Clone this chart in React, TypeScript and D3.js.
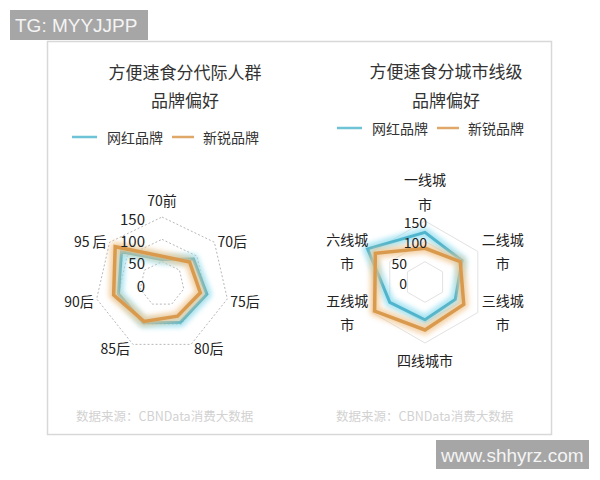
import React from "react";
import * as d3 from "d3";

// ---------- data ----------
const seriesNames = ["网红品牌", "新锐品牌"];

const genCategories = [["70前"], ["70后"], ["75后"], ["80后"], ["85后"], ["90后"], ["95 后"]];
const genWanghong = [55, 90, 103, 95, 96, 100, 116];
const genXinrui = [62, 79, 88, 80, 93, 111, 134];

const cityCategories = [["一线城", "市"], ["二线城", "市"], ["三线城", "市"], ["四线城市"], ["五线城", "市"], ["六线城", "市"]];
const cityWanghong = [122, 105, 86, 93, 100, 163];
const cityXinrui = [83, 100, 110, 118, 143, 141];

const radialTicks = [0, 50, 100, 150];
const titleLeft = ["方便速食分代际人群", "品牌偏好"];
const titleRight = ["方便速食分城市线级", "品牌偏好"];
const sourceText = "数据来源：CBNData消费大数据";

// ---------- styles ----------
const CJK = "'Noto Sans CJK SC', 'Noto Sans', sans-serif";
const BLUE = "#4fb4cc";
const BLUE_GLOW = "#8fdcef";
const ORANGE = "#d99a4e";
const ORANGE_GLOW = "#f2c58f";

type RadarProps = {
  cx: number;
  cy: number;
  R: number;
  categories: string[][];
  blue: number[];
  orange: number[];
  dashed: boolean;
  tickRight: (v: number) => number;
  tickSize: number;
};

function Radar({ cx, cy, R, categories, blue, orange, dashed, tickRight, tickSize }: RadarProps) {
  const n = categories.length;
  const r = d3.scaleLinear().domain([0, 150]).range([0, R]);
  const ang = (i: number) => (i * 2 * Math.PI) / n;
  const line = d3
    .lineRadial<number>()
    .angle((_, i) => ang(i))
    .radius((d) => r(d))
    .curve(d3.curveLinearClosed);
  const ring = (v: number) => line(d3.range(n).map(() => v)) as string;

  const labelEls: React.ReactNode[] = [];
  categories.forEach((lines, i) => {
    const a = ang(i) - Math.PI / 2;
    const c = Math.cos(a);
    const s = Math.sin(a);
    const vx = cx + R * c;
    const vy = cy + R * s;
    const fs = 14;
    if (Math.abs(c) < 0.1) {
      lines.forEach((t, k) => {
        const y = s < 0 ? vy - 17 - (lines.length - 1 - k) * 25 : vy + 17 + k * 25;
        labelEls.push(
          <text key={`l${i}-${k}`} x={vx} y={y} textAnchor="middle" dominantBaseline="central" fontSize={fs} fill="#222" fontFamily={CJK}>
            {t}
          </text>
        );
      });
    } else if (lines.length === 1) {
      labelEls.push(
        <text key={`l${i}`} x={vx + (c > 0 ? 3 : -3)} y={vy + 1 + 3 * s} textAnchor={c > 0 ? "start" : "end"} dominantBaseline="central" fontSize={fs} fill="#222" fontFamily={CJK}>
          {lines[0]}
        </text>
      );
    } else {
      const w = d3.max(lines, (t) => t.length * fs) as number;
      const bx = c > 0 ? vx + 4 + w / 2 : vx - 4 - w / 2;
      lines.forEach((t, k) => {
        const y = vy - 1 + (k - (lines.length - 1) / 2) * 24;
        labelEls.push(
          <text key={`l${i}-${k}`} x={bx} y={y} textAnchor="middle" dominantBaseline="central" fontSize={fs} fill="#222" fontFamily={CJK}>
            {t}
          </text>
        );
      });
    }
  });

  return (
    <g>
      <g transform={`translate(${cx},${cy})`}>
        {radialTicks.slice(1).map((v) => (
          <path
            key={v}
            d={ring(v)}
            fill="none"
            stroke={dashed ? "#b8b8b8" : "#e2e2e2"}
            strokeWidth={1}
            strokeDasharray={dashed ? "2,2" : undefined}
          />
        ))}
        <path d={line(blue) as string} fill="none" stroke={BLUE_GLOW} strokeWidth={10} strokeOpacity={0.75} strokeLinejoin="round" filter="url(#glow)" />
        <path d={line(blue) as string} fill="none" stroke={BLUE} strokeWidth={3} strokeLinejoin="miter" />
        <path d={line(orange) as string} fill="none" stroke={ORANGE_GLOW} strokeWidth={10} strokeOpacity={0.75} strokeLinejoin="round" filter="url(#glow)" />
        <path d={line(orange) as string} fill="none" stroke={ORANGE} strokeWidth={3.5} strokeLinejoin="miter" />
      </g>
      {radialTicks.map((v) => (
        <text key={`t${v}`} x={tickRight(v)} y={cy - r(v) + 1} textAnchor="end" dominantBaseline="central" fontSize={tickSize} fill="#222" fontFamily={CJK}>
          {v}
        </text>
      ))}
      {labelEls}
    </g>
  );
}

function Legend({ x, y }: { x: number; y: number }) {
  const colors = [BLUE, ORANGE];
  const legendColors = ["#6ec3d6", "#e0a868"];
  const offsets = [0, 100];
  return (
    <g>
      {seriesNames.map((name, i) => (
        <g key={name} transform={`translate(${x + offsets[i]},${y})`}>
          <line x1={0} x2={i === 0 ? 25 : 22} y1={0} y2={0} stroke={legendColors[i] || colors[i]} strokeWidth={2.5} />
          <text x={i === 0 ? 35 : 31} y={0} dominantBaseline="central" fontSize={14} fill="#333" fontFamily={CJK}>
            {name}
          </text>
        </g>
      ))}
    </g>
  );
}

export default function App() {
  return (
    <svg width={600} height={480} style={{ position: "absolute", left: 0, top: 0, background: "#fff" }}>
      <defs>
        <filter id="glow" x="-30%" y="-30%" width="160%" height="160%">
          <feGaussianBlur stdDeviation={2.5} />
        </filter>
      </defs>
      <rect x={0} y={0} width={600} height={480} fill="#fff" />
      <rect x={47.5} y={41.5} width={504} height={393} fill="#fff" stroke="#d8d8d8" strokeWidth={1.5} />

      {/* titles */}
      {titleLeft.map((t, i) => (
        <text key={`tl${i}`} x={185} y={71 + i * 28} textAnchor="middle" dominantBaseline="central" fontSize={17} fill="#333" fontFamily={CJK}>
          {t}
        </text>
      ))}
      {titleRight.map((t, i) => (
        <text key={`tr${i}`} x={446} y={70 + i * 29} textAnchor="middle" dominantBaseline="central" fontSize={17} fill="#333" fontFamily={CJK}>
          {t}
        </text>
      ))}

      <Legend x={72} y={137} />
      <Legend x={337} y={128} />

      <Radar
        cx={162}
        cy={284}
        R={67}
        categories={genCategories}
        blue={genWanghong}
        orange={genXinrui}
        dashed={true}
        tickRight={() => 145}
        tickSize={15}
      />
      <Radar
        cx={425}
        cy={282}
        R={61}
        categories={cityCategories}
        blue={cityWanghong}
        orange={cityXinrui}
        dashed={false}
        tickRight={(v) => (v >= 100 ? 427 : 407)}
        tickSize={14}
      />

      <text x={76} y={415} dominantBaseline="central" fontSize={12.5} fill="#d2d2d2" fontFamily={CJK}>
        {sourceText}
      </text>
      <text x={336} y={415} dominantBaseline="central" fontSize={12.5} fill="#d2d2d2" fontFamily={CJK}>
        {sourceText}
      </text>

      {/* watermarks */}
      <rect x={10} y={10} width={138} height={30} fill="#a6a6a6" />
      <text x={15} y={25.5} dominantBaseline="central" fontSize={19} fill="#f4f4f4" fontFamily="'Liberation Sans', Arial, sans-serif">
        TG: MYYJJPP
      </text>
      <rect x={436} y={440} width={153} height={29} fill="#a6a6a6" />
      <text x={441} y={455} dominantBaseline="central" fontSize={19} fill="#f4f4f4" fontFamily="'Liberation Sans', Arial, sans-serif">
        www.shhyrz.com
      </text>
    </svg>
  );
}
